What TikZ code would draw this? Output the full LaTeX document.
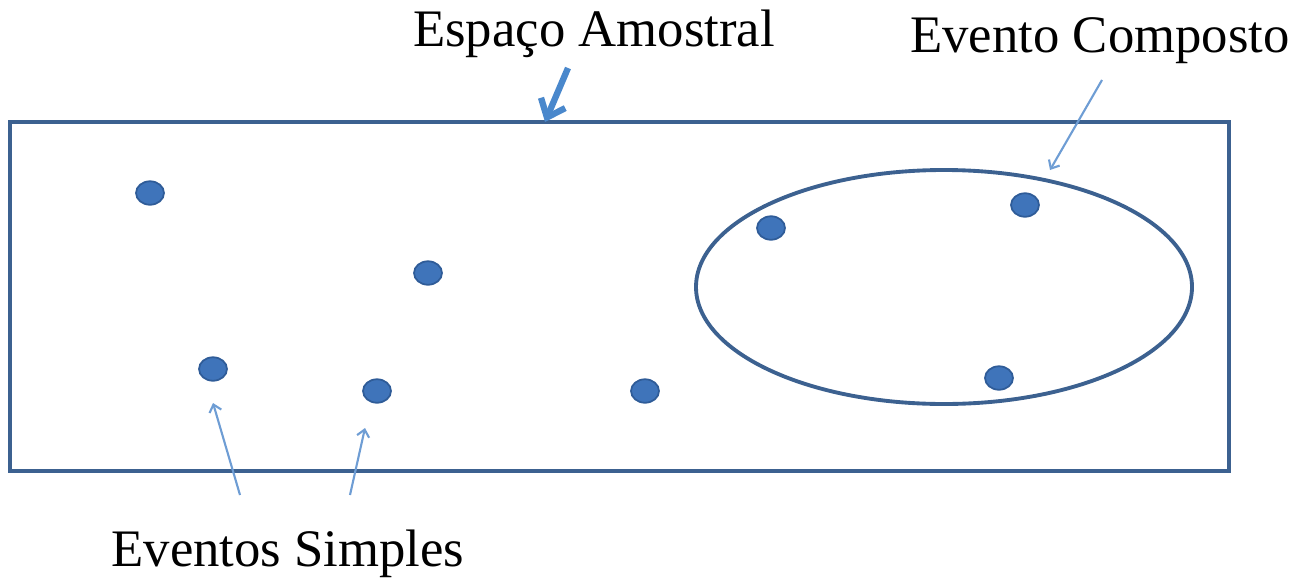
\documentclass[tikz,border=0pt]{standalone}
\usepackage{fontspec}
\setmainfont{Liberation Serif}
\usetikzlibrary{arrows.meta,shapes.geometric}
\definecolor{boxline}{HTML}{3C6190}
\definecolor{dotfill}{HTML}{3F74BA}
\definecolor{dotline}{HTML}{2F5C98}
\definecolor{thinarrow}{HTML}{6E9DD4}
\definecolor{thickarrow}{HTML}{4A88CC}
\begin{document}
\begin{tikzpicture}[x=0.02cm, y=-0.02cm, font=\fontsize{30}{35}\selectfont]
      \tikzset{dot/.style={draw=dotline, fill=dotfill, line width=1pt, ellipse, minimum width=0.56cm, minimum height=0.47cm, inner sep=0pt},
        pointer/.style={draw=thinarrow, line width=1.2pt, -{Straight Barb[length=4pt,width=7pt]}},
        label/.style={inner sep=0pt, anchor=base}}
      \useasboundingbox (0,0) rectangle (1301,578);
      % sample space and compound event
      \draw[boxline, line width=2.2pt] (10,122) rectangle (1229,471);
      \draw[boxline, line width=2.2pt] (944,287) ellipse [x radius=248, y radius=117];
      % simple events
      \node[dot] (e1) at (150,193) {};
      \node[dot] (e2) at (428,273) {};
      \node[dot] (e3) at (213,369) {};
      \node[dot] (e4) at (377,391) {};
      \node[dot] (e5) at (645,391) {};
      \node[dot] (e6) at (771,228) {};
      \node[dot] (e7) at (1025,205) {};
      \node[dot] (e8) at (999,378) {};
      % labels
      \node[label] (space) at (594,46) {Espaço Amostral};
      \node[label] (comp) at (1100,52) {Evento Composto};
      \node[label] (simple) at (288,566) {Eventos Simples};
      \coordinate (spacetip) at (545,122);
      \coordinate (comptip) at (1050,170);
      \coordinate (stip1) at (213,403);
      \coordinate (stip2) at (365,428);
      \coordinate (stail1) at (240,495);
      \coordinate (stail2) at (350,495);
      \draw[draw=thickarrow, line width=3.6pt, -{Straight Barb[length=9pt,width=15pt]}] (568,68) -- (spacetip);
      \draw[pointer] (1102,80) -- (comptip);
      \draw[pointer] (stail1) -- (stip1);
      \draw[pointer] (stail2) -- (stip2);
    \end{tikzpicture}
\end{document}
